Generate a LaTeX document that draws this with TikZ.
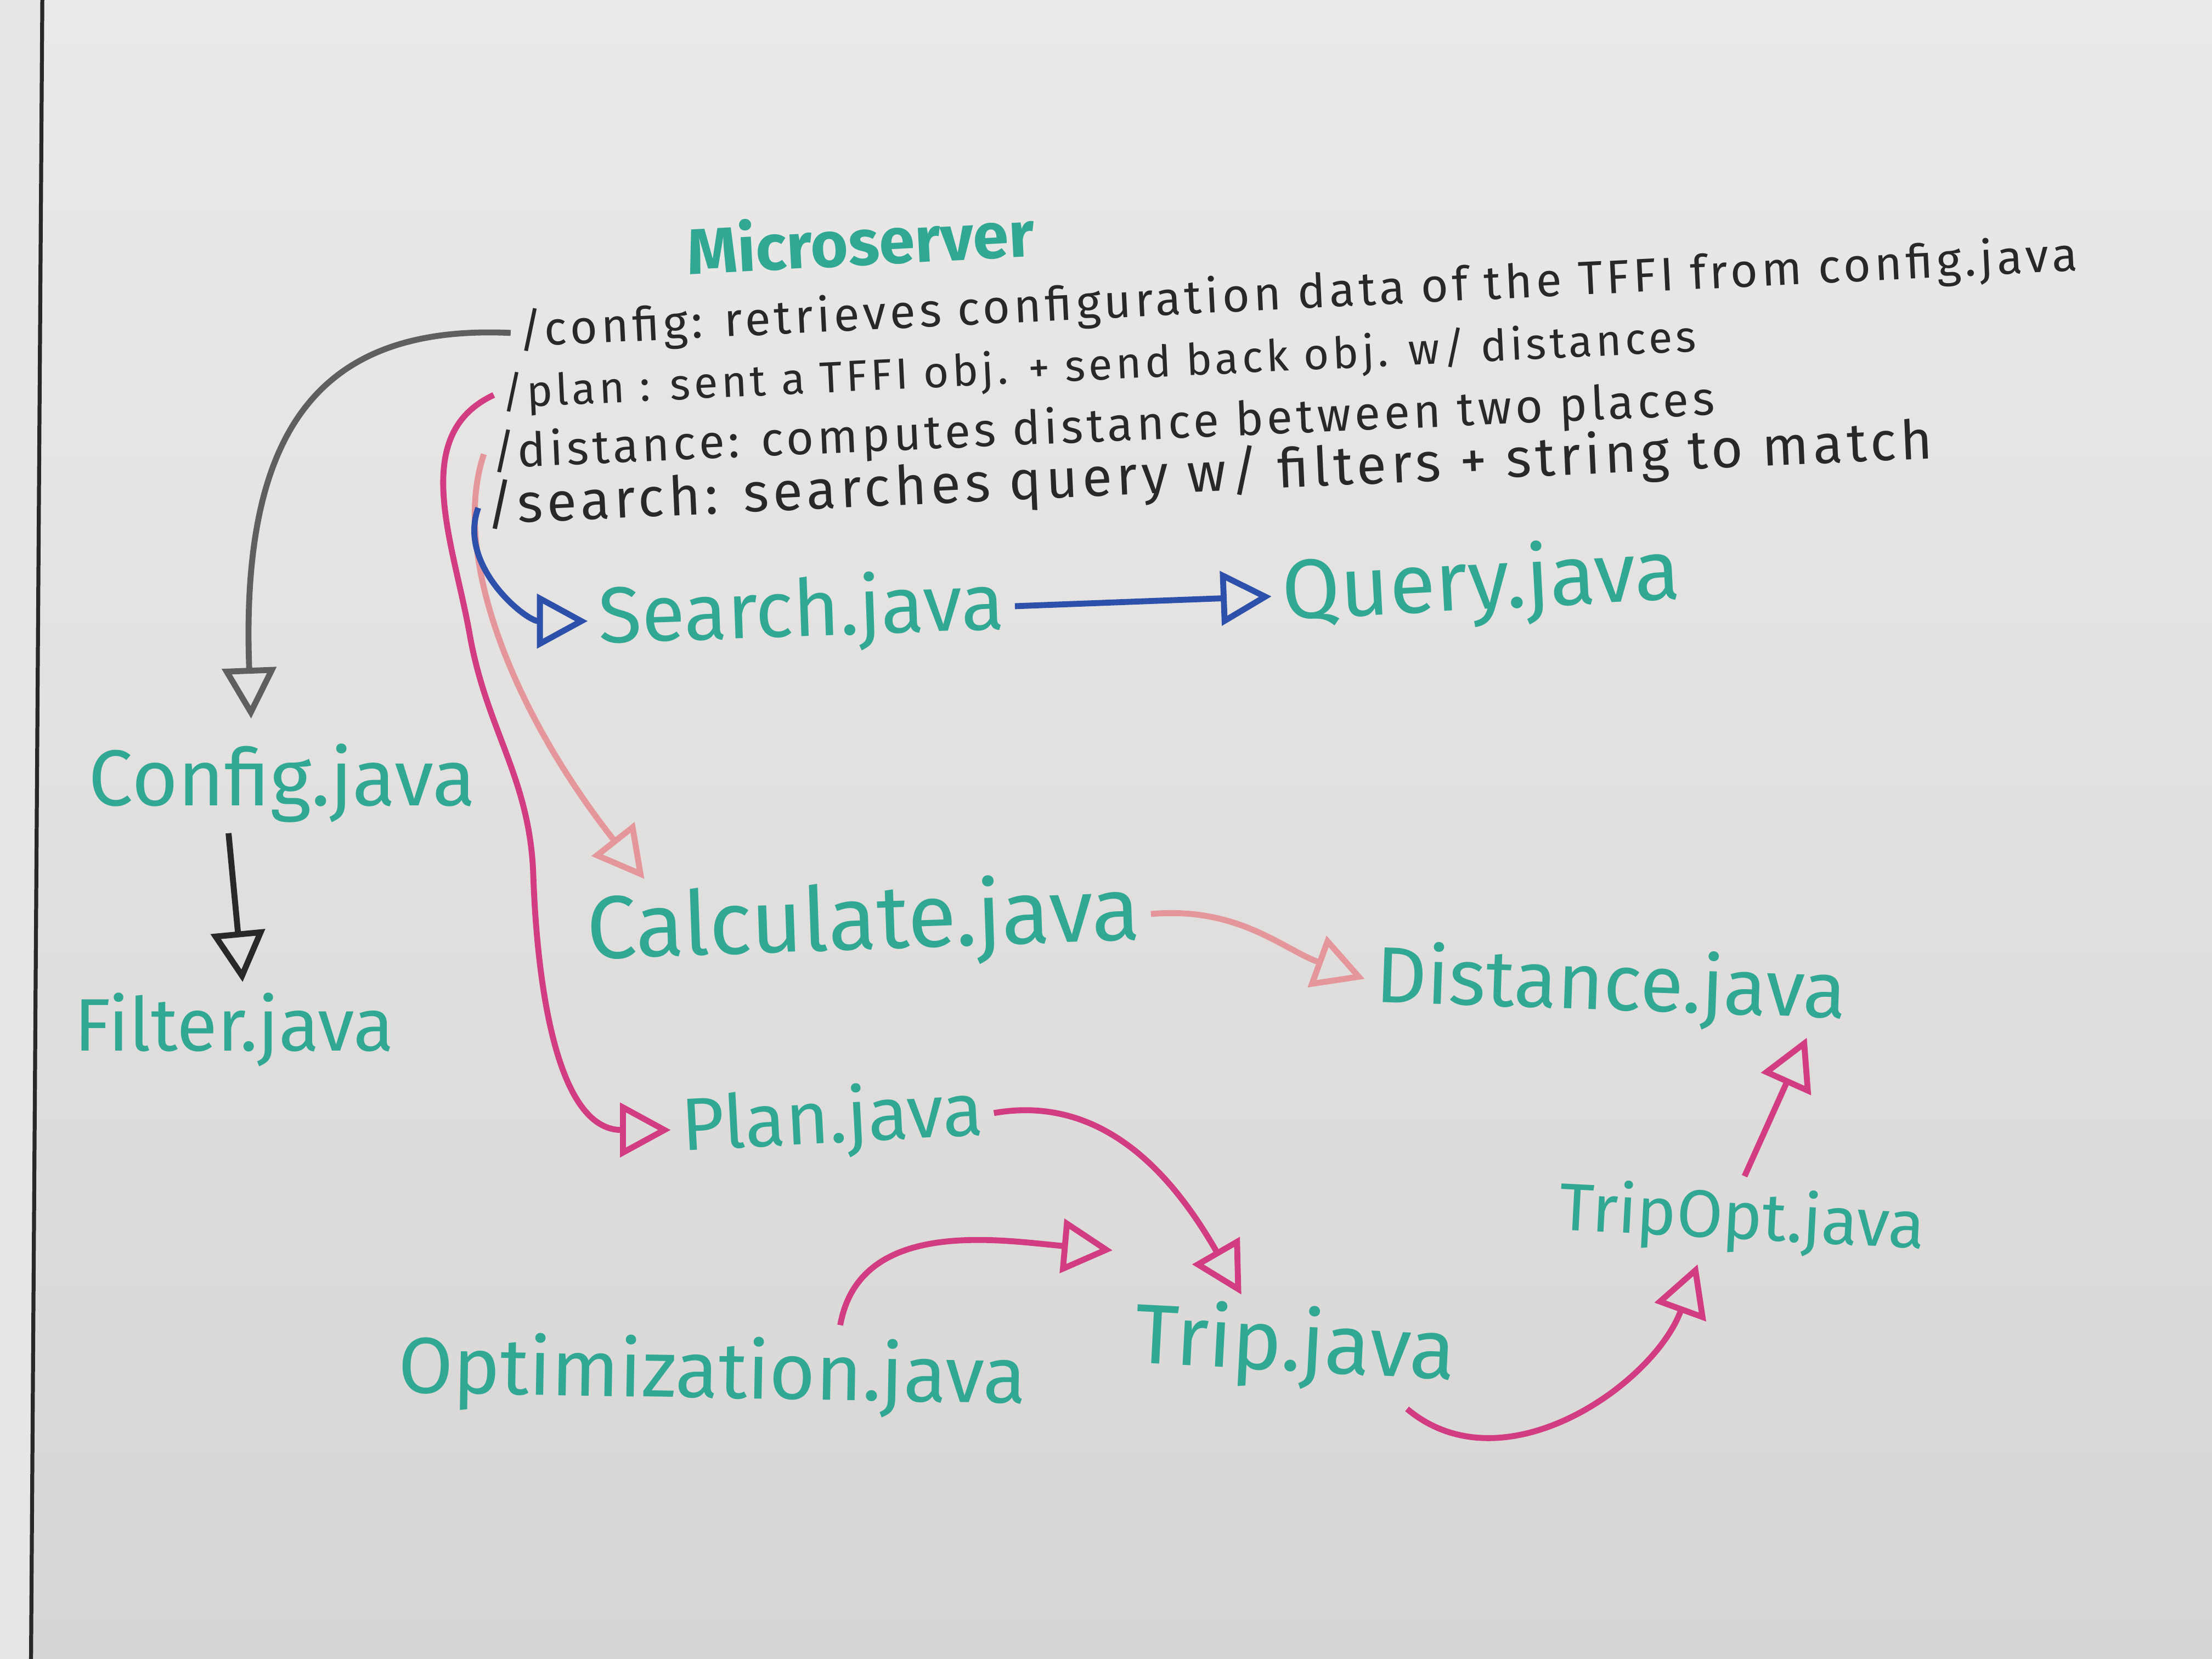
\documentclass[tikz,border=0pt]{standalone}
\usepackage{fontspec}
\setmainfont{Fira Sans}
\newfontfamily\handfont[LetterSpace=8]{Fira Sans}
\usetikzlibrary{arrows.meta,calc}

\definecolor{board}{RGB}{236,234,233}
\definecolor{boardlow}{RGB}{216,214,213}
\definecolor{inkblack}{RGB}{40,40,40}
\definecolor{inkgray}{RGB}{95,95,95}
\definecolor{markerteal}{RGB}{48,168,148}
\definecolor{markerblue}{RGB}{45,80,170}
\definecolor{markerpink}{RGB}{210,60,130}
\definecolor{fadedpink}{RGB}{228,150,155}

\tikzset{handtext/.style={text=inkblack, inner sep=0pt, anchor=west}}
\tikzset{javafile/.style={text=markerteal, font=\fontsize{16}{19}\selectfont, inner sep=2pt}}
\tikzset{link/.style={line width=1.2pt, -{Triangle[open,length=3.6mm,width=3.8mm,line width=1.2pt]}}}

\begin{document}
\begin{tikzpicture}
	\useasboundingbox (0,0) rectangle (15.68,-11.76);
	\shade[top color=board, bottom color=boardlow] (0,0) rectangle (15.68,-11.76);
	\fill[boardlow!90!black!10!board] (0,0) -- (0.30,0) -- (0.22,-11.76) -- (0,-11.76) -- cycle;
	\draw[inkblack, line width=0.8pt] (0.30,0) -- (0.22,-11.76);
	
	\node[text=markerteal, font=\bfseries\fontsize{13}{15}\selectfont, rotate=3, inner sep=0pt] (title) at (6.10,-1.70) {Microserver};
	
	\node[handtext, rotate=2.8, font=\handfont\fontsize{9.5}{11}\selectfont] (cfgline) at (3.67,-2.36) {/config: retrieves configuration data of the TFFI from config.java};
	\node[handtext, rotate=2.7, font=\handfont\fontsize{8.8}{10}\selectfont] (plnline) at (3.55,-2.80) {/plan : sent a TFFI obj. + send back obj. w/ distances};
	\node[handtext, rotate=2.5, font=\handfont\fontsize{9.5}{11}\selectfont] (dstline) at (3.48,-3.22) {/distance: computes distance between two places};
	\node[handtext, rotate=2.6, font=\handfont\fontsize{11}{13}\selectfont] (srchline) at (3.44,-3.60) {/search: searches query w/ filters + string to match};
	
	\node[javafile, rotate=2] (search) at (5.68,-4.35) {Search.java};
	\node[javafile, rotate=3, font=\fontsize{17}{20}\selectfont] (query) at (10.50,-4.15) {Query.java};
	\node[javafile] (config) at (2.00,-5.55) {Config.java};
	\node[javafile, font=\fontsize{15}{18}\selectfont] (filter) at (1.66,-7.30) {Filter.java};
	\node[javafile, rotate=2, font=\fontsize{18}{21}\selectfont] (calc) at (6.12,-6.55) {Calculate.java};
	\node[javafile, rotate=-2] (dist) at (11.42,-7.00) {Distance.java};
	\node[javafile, rotate=3, font=\fontsize{15}{18}\selectfont] (plan) at (5.90,-7.95) {Plan.java};
	\node[javafile, rotate=-3, font=\fontsize{13.5}{16}\selectfont] (tripopt) at (12.35,-8.65) {TripOpt.java};
	\node[javafile, rotate=-3, font=\fontsize{17}{20}\selectfont] (trip) at (9.18,-9.55) {Trip.java};
	\node[javafile, rotate=-1] (optim) at (5.05,-9.75) {Optimization.java};
	
	\draw[link, inkgray] ([xshift=-0.5mm]cfgline.west) .. controls (2.3,-2.3) and (1.7,-3.0) .. ([xshift=-2.2mm,yshift=1mm]config.north);
	\draw[link, inkblack] ([xshift=-3.8mm]config.south) -- ([xshift=0.6mm]filter.north);
	
	\draw[link, markerpink] ([xshift=-0.5mm]plnline.west) to[out=205,in=100] (3.33,-4.5) to[out=-80,in=92] (3.78,-6.2) to[out=-88,in=180] (plan.west);
	\draw[link, fadedpink] ([xshift=-0.5mm]dstline.west) .. controls (3.2,-3.9) and (3.6,-5.0) .. ([xshift=0.5cm]calc.north west);
	\draw[link, markerblue] ([xshift=-0.5mm]srchline.west) to[out=250,in=180] (search.west);
	\draw[link, markerblue] (search.east) -- (query.west);
	
	\draw[link, fadedpink] (calc.east) to[out=5,in=160] (dist.west);
	\draw[link, markerpink] (plan.east) to[out=10,in=120] ([xshift=-0.4cm]trip.north);
	\draw[link, markerpink] ([xshift=0.9cm]optim.north) to[out=80,in=175] ([xshift=-1mm,yshift=2.5mm]trip.north west);
	\draw[link, markerpink] ([xshift=-0.4cm]trip.south east) to[out=-40,in=-110] ([xshift=-0.3cm]tripopt.south);
	\draw[link, markerpink] (tripopt.north) -- ([xshift=1.4cm]dist.south);
\end{tikzpicture}
\end{document}
